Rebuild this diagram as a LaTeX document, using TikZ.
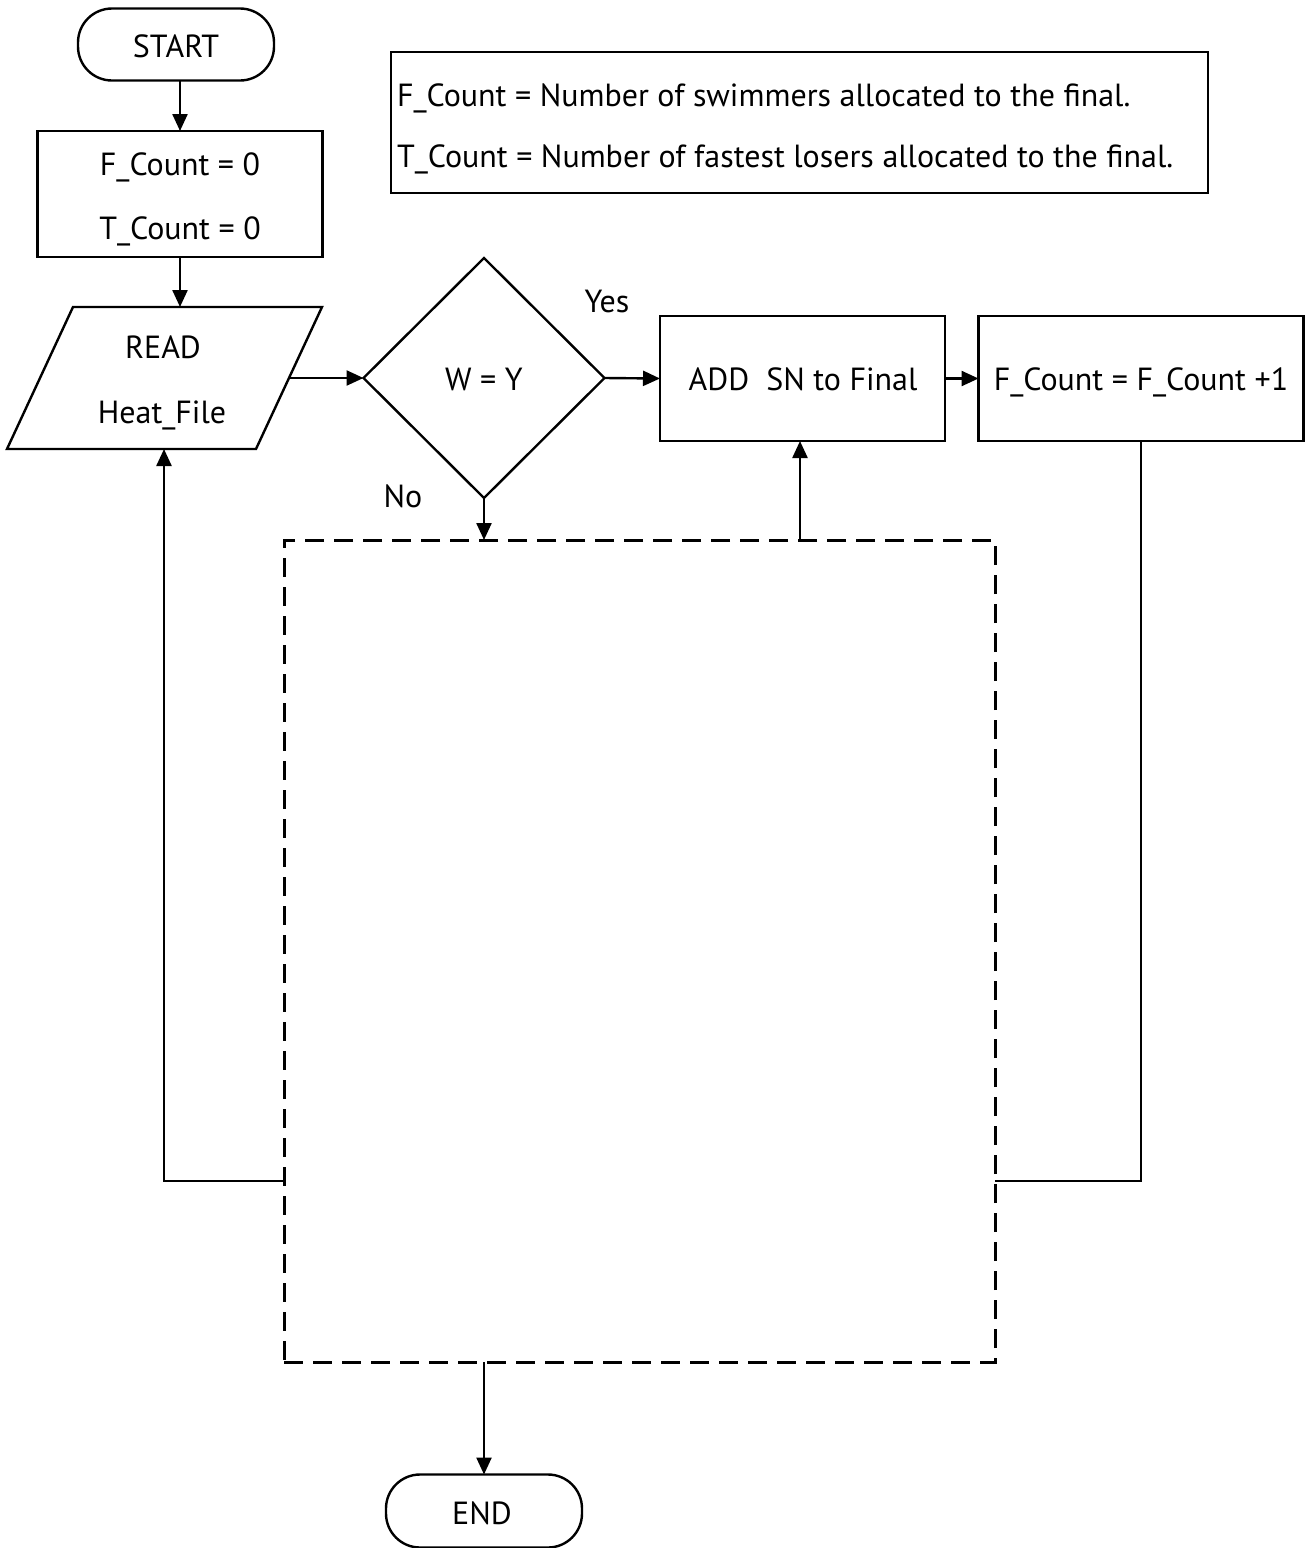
\documentclass[tikz,border=0pt]{standalone}
\usepackage{fontspec}
\setmainfont{PT Sans}
\usetikzlibrary{arrows.meta,shapes.geometric}
\begin{document}
\begin{tikzpicture}[x=1pt,y=-1pt,
  line width=2.4pt,
  every node/.style={font=\fontsize{32}{38}\selectfont, inner sep=0pt, outer sep=0pt},
  box/.style={draw, rectangle},
  term/.style={draw, rectangle, rounded corners=34pt},
  txt/.style={anchor=base},
  arr/.style={-{Triangle[length=17pt,width=15pt]}},
  dashbox/.style={draw, rectangle, line width=3pt, dash pattern=on 19pt off 10pt}
]
\useasboundingbox (0,0) rectangle (1309,1548);

% terminals
\node[term, minimum width=196pt, minimum height=72pt] (start) at (176,44.5) {};
\node[txt] (starttxt) at (176,57) {START};
\node[term, minimum width=196pt, minimum height=73pt] (end) at (484,1511) {};
\node[txt] (endtxt) at (482,1524) {END};

% init box
\node[box, minimum width=285pt, minimum height=126pt] (init) at (180,194) {};
\node[txt] (init1) at (180,175) {F\_Count = 0};
\node[txt] (init2) at (180,239) {T\_Count = 0};

% legend
\node[box, minimum width=817pt, minimum height=141pt] (legend) at (799.5,122.5) {};
\node[anchor=base west] (leg1) at (397,106) {F\_Count = Number of swimmers allocated to the final.};
\node[anchor=base west] (leg2) at (397,167) {T\_Count = Number of fastest losers allocated to the final.};

% parallelogram (read)
\coordinate (rtl) at (73,307);
\coordinate (rtr) at (322,307);
\coordinate (rbr) at (256,449);
\coordinate (rbl) at (7,449);
\draw (rtl) -- (rtr) -- (rbr) -- (rbl) -- cycle;
\coordinate (rtop) at (180,307);
\coordinate (rright) at (289,378);
\coordinate (rbot) at (164,449);
\node[txt] (read1) at (163,358) {READ};
\node[txt] (read2) at (162,423) {Heat\_File};

% decision
\node[draw, diamond, minimum width=241pt, minimum height=240pt] (dec) at (484,378) {};
\node[txt] (dectxt) at (484,390) {W = Y};
\node[txt] (yes) at (607,312) {Yes};
\node[txt] (no) at (403,507) {No};

% process boxes
\node[box, minimum width=285pt, minimum height=125pt] (add) at (802.5,378.5) {};
\node[txt] (addtxt) at (803,390) {ADD\ \ SN to Final};
\node[box, minimum width=325pt, minimum height=125pt] (inc) at (1141,378.5) {};
\node[txt] (inctxt) at (1141,390) {F\_Count = F\_Count +1};

% dashed box
\node[dashbox, minimum width=711pt, minimum height=822pt] (blank) at (639.5,951) {};

% connector helper coordinates
\coordinate (dtop) at (484,540);
\coordinate (dbot) at (484,1362);
\coordinate (dupr) at (800,540);
\coordinate (dleft) at (284,1181);
\coordinate (dright) at (995,1181);
\coordinate (lc) at (164,1181);

% connectors
\draw[arr] (start.south -| init.north) -- (init.north);
\draw[arr] (init.south) -- (rtop);
\draw[arr] (rright) -- (dec.west);
\draw[arr] (dec.east) -- (add.west);
\draw[arr] (add.east) -- (inc.west);
\draw[arr] (dec.south) -- (dtop);
\draw[arr] (dupr) -- (add.south -| dupr);
\draw (inc.south) -- (inc.south |- dright) -- (dright);
\draw[arr] (dleft) -- (lc) -- (rbot);
\draw[arr] (dbot) -- (end.north);
\end{tikzpicture}
\end{document}
